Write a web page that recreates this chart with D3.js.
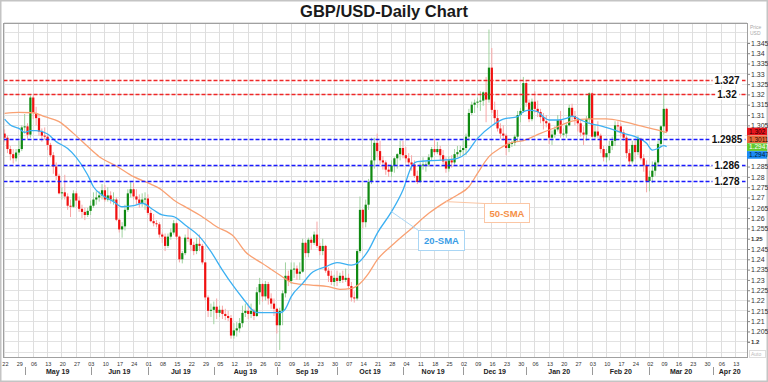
<!DOCTYPE html>
<html>
<head>
<meta charset="utf-8">
<script src="https://cdn.jsdelivr.net/npm/d3@7/dist/d3.min.js"></script>
<style>
  body { margin: 0; background: #fff; }
  svg { display: block; font-family: "Liberation Sans", Arial, sans-serif; }
</style>
</head>
<body>
<div class="chart"></div>
<script>
var svgWidth = 768;
var svgHeight = 382;
var plot = { left: 3.5, right: 747, top: 23.5, bottom: 357 };

// Daily GBP/USD candles, one per weekday from Mon 22 Apr 2019 (index 0) to Tue 10 Mar 2020
var firstOpen = 1.3010;
var closes = [
  1.2990, 1.2935, 1.2910, 1.2890, 1.2918,  1.2935, 1.3040, 1.3045, 1.3005, 1.3185,
  1.3110, 1.3085, 1.3020, 1.3000, 1.2995,  1.2955, 1.2905, 1.2850, 1.2805, 1.2720,
  1.2725, 1.2705, 1.2660, 1.2655, 1.2720,  1.2685, 1.2645, 1.2630, 1.2615, 1.2635,
  1.2660, 1.2690, 1.2700, 1.2710, 1.2735,  1.2690, 1.2710, 1.2690, 1.2690, 1.2592,
  1.2545, 1.2560, 1.2640, 1.2720, 1.2740,  1.2705, 1.2690, 1.2672, 1.2690, 1.2695,
  1.2625, 1.2585, 1.2575, 1.2570, 1.2520,  1.2510, 1.2465, 1.2510, 1.2530, 1.2575,
  1.2510, 1.2400, 1.2430, 1.2505, 1.2500,  1.2470, 1.2440, 1.2475, 1.2465, 1.2385,
  1.2215, 1.2150, 1.2155, 1.2170, 1.2140,  1.2155, 1.2135, 1.2125, 1.2115, 1.2030,
  1.2055, 1.2065, 1.2090, 1.2140, 1.2150,  1.2135, 1.2150, 1.2125, 1.2240, 1.2280,
  1.2220, 1.2280, 1.2210, 1.2185, 1.2160,  1.2080, 1.2150, 1.2235, 1.2320, 1.2295,
  1.2350, 1.2355, 1.2330, 1.2340, 1.2480,  1.2430, 1.2495, 1.2480, 1.2520, 1.2465,
  1.2440, 1.2465, 1.2345, 1.2320, 1.2290,  1.2310, 1.2295, 1.2320, 1.2300, 1.2310,
  1.2270, 1.2215, 1.2210, 1.2440, 1.2640,  1.2580, 1.2665, 1.2775, 1.2880, 1.2965,
  1.2925, 1.2880, 1.2870, 1.2835, 1.2825,  1.2855, 1.2890, 1.2910, 1.2940, 1.2905,
  1.2890, 1.2870, 1.2860, 1.2805, 1.2775,  1.2855, 1.2860, 1.2860, 1.2895, 1.2935,
  1.2920, 1.2935, 1.2905, 1.2875, 1.2840,  1.2880, 1.2870, 1.2910, 1.2920, 1.2930,
  1.2940, 1.2995, 1.3110, 1.3150, 1.3160,  1.3165, 1.3170, 1.3210, 1.3175, 1.3330,
  1.3125, 1.3085, 1.3035, 1.3010, 1.3000,  1.2940, 1.2960, 1.2965, 1.2995, 1.3100,
  1.3120, 1.3255, 1.3160, 1.3080, 1.3165,  1.3130, 1.3115, 1.3090, 1.3070, 1.3060,
  1.2990, 1.3005, 1.3030, 1.3075, 1.3010,  1.3010, 1.3050, 1.3135, 1.3095, 1.3080,
  1.3060, 1.3015, 1.3005, 1.3080, 1.3205,  1.2995, 1.3020, 1.3000, 1.2935, 1.2895,
  1.2915, 1.2950, 1.2975, 1.3050, 1.3045,  1.3015, 1.2990, 1.2915, 1.2875, 1.2955,
  1.2920, 1.2985, 1.2890, 1.2855, 1.2780,  1.2800, 1.2830, 1.2870, 1.2960, 1.3045,
  1.3130, 1.3020
];
var highs = [
  1.3030, 1.3000, 1.2950, 1.2935, 1.2935,  1.2975, 1.3050, 1.3105, 1.3060, 1.3195,
  1.3195, 1.3140, 1.3100, 1.3035, 1.3040,  1.3010, 1.2965, 1.2920, 1.2870, 1.2815,
  1.2750, 1.2810, 1.2720, 1.2690, 1.2735,  1.2730, 1.2705, 1.2665, 1.2650, 1.2650,
  1.2685, 1.2725, 1.2730, 1.2730, 1.2765,  1.2760, 1.2750, 1.2730, 1.2725, 1.2700,
  1.2600, 1.2580, 1.2665, 1.2740, 1.2780,  1.2770, 1.2740, 1.2715, 1.2720, 1.2725,
  1.2715, 1.2640, 1.2620, 1.2590, 1.2580,  1.2530, 1.2525, 1.2525, 1.2550, 1.2590,
  1.2580, 1.2515, 1.2440, 1.2520, 1.2555,  1.2505, 1.2485, 1.2505, 1.2520, 1.2475,
  1.2385, 1.2225, 1.2185, 1.2195, 1.2210,  1.2175, 1.2175, 1.2160, 1.2150, 1.2130,
  1.2090, 1.2095, 1.2115, 1.2175, 1.2185,  1.2175, 1.2185, 1.2160, 1.2265, 1.2310,
  1.2285, 1.2295, 1.2290, 1.2235, 1.2210,  1.2165, 1.2165, 1.2250, 1.2385, 1.2345,
  1.2385, 1.2385, 1.2370, 1.2385, 1.2500,  1.2485, 1.2505, 1.2510, 1.2535, 1.2583,
  1.2480, 1.2500, 1.2470, 1.2360, 1.2345,  1.2325, 1.2345, 1.2335, 1.2345, 1.2355,
  1.2330, 1.2290, 1.2245, 1.2450, 1.2705,  1.2645, 1.2690, 1.2790, 1.2990, 1.2990,
  1.3010, 1.2975, 1.2900, 1.2880, 1.2860,  1.2880, 1.2895, 1.2915, 1.2975, 1.2975,
  1.2945, 1.2915, 1.2905, 1.2880, 1.2830,  1.2870, 1.2895, 1.2875, 1.2910, 1.2945,
  1.2985, 1.2970, 1.2950, 1.2930, 1.2895,  1.2900, 1.2905, 1.2935, 1.2950, 1.2950,
  1.2975, 1.3010, 1.3130, 1.3165, 1.3175,  1.3185, 1.3215, 1.3215, 1.3285, 1.3515,
  1.3425, 1.3165, 1.3125, 1.3060, 1.3050,  1.3010, 1.2975, 1.2975, 1.3005, 1.3120,
  1.3135, 1.3285, 1.3265, 1.3175, 1.3180,  1.3215, 1.3170, 1.3130, 1.3110, 1.3100,
  1.3065, 1.3025, 1.3045, 1.3100, 1.3120,  1.3035, 1.3060, 1.3150, 1.3155, 1.3120,
  1.3090, 1.3075, 1.3045, 1.3095, 1.3210,  1.3210, 1.3050, 1.3070, 1.3010, 1.2950,
  1.2935, 1.2975, 1.2995, 1.3070, 1.3070,  1.3060, 1.3030, 1.3000, 1.2935, 1.2975,
  1.2975, 1.3000, 1.2990, 1.2910, 1.2880,  1.2830, 1.2875, 1.2880, 1.2975, 1.3050,
  1.3205, 1.3135
];
var lows = [
  1.2970, 1.2915, 1.2880, 1.2865, 1.2875,  1.2905, 1.2925, 1.3010, 1.2985, 1.2990,
  1.3080, 1.3050, 1.3000, 1.2970, 1.2980,  1.2930, 1.2895, 1.2815, 1.2785, 1.2715,
  1.2690, 1.2690, 1.2640, 1.2605, 1.2650,  1.2655, 1.2630, 1.2600, 1.2590, 1.2605,
  1.2615, 1.2650, 1.2665, 1.2680, 1.2690,  1.2680, 1.2680, 1.2670, 1.2665, 1.2585,
  1.2530, 1.2505, 1.2540, 1.2630, 1.2700,  1.2690, 1.2665, 1.2650, 1.2655, 1.2640,
  1.2615, 1.2580, 1.2560, 1.2555, 1.2505,  1.2480, 1.2440, 1.2455, 1.2495, 1.2520,
  1.2495, 1.2385, 1.2380, 1.2420, 1.2485,  1.2440, 1.2420, 1.2425, 1.2440, 1.2375,
  1.2200, 1.2120, 1.2120, 1.2085, 1.2110,  1.2120, 1.2110, 1.2105, 1.2100, 1.2015,
  1.2015, 1.2025, 1.2045, 1.2070, 1.2120,  1.2110, 1.2115, 1.2105, 1.2120, 1.2180,
  1.2195, 1.2200, 1.2180, 1.2160, 1.2125,  1.2040, 1.1960, 1.2080, 1.2215, 1.2270,
  1.2280, 1.2310, 1.2300, 1.2300, 1.2335,  1.2410, 1.2410, 1.2445, 1.2470, 1.2455,
  1.2420, 1.2420, 1.2335, 1.2290, 1.2275,  1.2270, 1.2270, 1.2285, 1.2285, 1.2290,
  1.2255, 1.2195, 1.2190, 1.2200, 1.2430,  1.2550, 1.2555, 1.2640, 1.2765, 1.2840,
  1.2895, 1.2860, 1.2835, 1.2810, 1.2800,  1.2800, 1.2820, 1.2840, 1.2880, 1.2890,
  1.2870, 1.2850, 1.2830, 1.2795, 1.2765,  1.2770, 1.2835, 1.2825, 1.2850, 1.2880,
  1.2905, 1.2910, 1.2880, 1.2860, 1.2820,  1.2825, 1.2845, 1.2860, 1.2895, 1.2900,
  1.2905, 1.2905, 1.2975, 1.3100, 1.3110,  1.3135, 1.3120, 1.3145, 1.3065, 1.3160,
  1.3110, 1.3060, 1.3020, 1.2985, 1.2975,  1.2905, 1.2920, 1.2945, 1.2950, 1.2975,
  1.3065, 1.3110, 1.3140, 1.3065, 1.3070,  1.3110, 1.3090, 1.3060, 1.3030, 1.3040,
  1.2960, 1.2955, 1.2990, 1.3020, 1.2990,  1.2995, 1.2990, 1.3045, 1.3075, 1.3050,
  1.3020, 1.2995, 1.2955, 1.2975, 1.3060,  1.2990, 1.2985, 1.2990, 1.2915, 1.2875,
  1.2870, 1.2880, 1.2930, 1.2950, 1.3015,  1.2995, 1.2975, 1.2890, 1.2850, 1.2865,
  1.2885, 1.2905, 1.2880, 1.2825, 1.2725,  1.2730, 1.2770, 1.2805, 1.2855, 1.2945,
  1.3005, 1.3015
];

// moving averages: [day index, value]
var sma20 = [[0,1.3080],[2,1.3052],[5,1.3035],[7,1.3016],[9,1.3024],[11,1.3024],[15,1.3008],[18,1.2971],
  [22,1.2938],[25,1.2895],[29,1.2809],[31,1.2752],[34,1.2712],[38,1.2680],[41,1.2655],[45,1.2660],
  [48,1.2672],[52,1.2639],[55,1.2615],[59,1.2607],[63,1.2566],[68,1.2510],[72,1.2437],[76,1.2348],
  [80,1.2267],[84,1.2195],[86,1.2160],[88,1.2142],[92,1.2141],[96,1.2141],[98,1.2160],[100,1.2219],
  [104,1.2283],[107,1.2332],[112,1.2364],[116,1.2384],[121,1.2372],[123,1.2380],[127,1.2445],[130,1.2526],
  [135,1.2631],[139,1.2736],[142,1.2850],[144,1.2874],[149,1.2879],[154,1.2882],[158,1.2890],[161,1.2914],
  [165,1.2987],[170,1.3048],[174,1.3080],[179,1.3092],[181,1.3116],[183,1.3124],[186,1.3116],[188,1.3092],
  [190,1.3076],[193,1.3076],[196,1.3084],[198,1.3095],[201,1.3076],[204,1.3060],[208,1.3047],[211,1.3035],
  [216,1.3011],[220,1.2995],[224,1.2963],[226,1.2930],[228,1.2938],[230,1.2952],[231,1.2947]];
var sma50 = [[0,1.3108],[5,1.3113],[10,1.3111],[14,1.3092],[19,1.3068],[24,1.3011],[29,1.2947],[33,1.2898],
  [39,1.2853],[45,1.2801],[51,1.2765],[54,1.2744],[59,1.2688],[64,1.2647],[68,1.2615],[74,1.2558],
  [80,1.2510],[84,1.2437],[90,1.2380],[96,1.2324],[101,1.2283],[107,1.2275],[113,1.2267],[117,1.2254],
  [121,1.2259],[124,1.2283],[127,1.2332],[130,1.2397],[136,1.2478],[142,1.2550],[148,1.2623],[154,1.2680],
  [158,1.2712],[162,1.2752],[165,1.2817],[169,1.2898],[173,1.2940],[176,1.2963],[181,1.2976],[187,1.3011],
  [193,1.3044],[198,1.3071],[204,1.3081],[210,1.3081],[216,1.3068],[222,1.3047],[228,1.3027],[231,1.3015]];

var levelValues = [1.327, 1.32, 1.2985, 1.286, 1.278];
var levelLabels = ["1.327", "1.32", "1.2985", "1.286", "1.278"];
var levelKinds = ["res", "res", "sup", "sup", "sup"];

var tagValues = [1.302, 1.3011, 1.2947, 1.2947];
var tagLabels = ["1.302", "1.3011", "1.2947", "1.2947"];

var yTicks = [1.2, 1.205, 1.21, 1.215, 1.22, 1.225, 1.23, 1.235, 1.24, 1.245, 1.25, 1.255, 1.26, 1.265,
  1.27, 1.275, 1.28, 1.285, 1.29, 1.295, 1.3, 1.305, 1.31, 1.315, 1.32, 1.325, 1.33, 1.335, 1.34, 1.345];
var weekLabels = ["22","29","06","13","20","27","03","10","17","24","01","08","15","22","29","05","12","19","26",
  "02","09","16","23","30","07","14","21","28","04","11","18","25","02","09","16","23","30","06","13","20","27",
  "03","10","17","24","02","09","16","23","30","06","13"];
var monthLabels = ["May 19","Jun 19","Jul 19","Aug 19","Sep 19","Oct 19","Nov 19","Dec 19","Jan 20","Feb 20","Mar 20","Apr 20"];
var monthStarts = [7, 30, 50, 73, 95, 116, 139, 160, 182, 205, 225, 247];

var svg = d3.select(".chart")
  .append("svg")
  .attr("width", svgWidth)
  .attr("height", svgHeight);

// scales: x on trading-day index, y on price
var lastIndex = 259;
var xScale = d3.scaleLinear().domain([0, lastIndex]).range([4.6, 4.6 + lastIndex * 2.866]);
var yScale = d3.scaleLinear().domain([1.2, 1.345]).range([341.75, 42.9]);

// frame
svg.append("rect")
  .attr("x", 0.75).attr("y", 0.75)
  .attr("width", svgWidth - 1.5).attr("height", svgHeight - 1.5)
  .attr("fill", "#fff").attr("stroke", "#c4c4c4").attr("stroke-width", 1.5);

svg.append("text")
  .attr("x", 384).attr("y", 17)
  .attr("text-anchor", "middle")
  .style("font-size", "16.5px").style("font-weight", "bold").style("fill", "#1a1a1a")
  .text("GBP/USD-Daily Chart");

svg.append("defs").append("clipPath").attr("id", "plotclip")
  .append("rect")
  .attr("x", plot.left).attr("y", plot.top)
  .attr("width", plot.right - plot.left).attr("height", plot.bottom - plot.top);

var grid = svg.append("g").attr("shape-rendering", "crispEdges");
var gridPrices = d3.range(1.195, 1.3551, 0.005);
grid.selectAll(".hg").data(gridPrices).enter().append("line")
  .attr("x1", plot.left).attr("x2", plot.right)
  .attr("y1", d => yScale(d)).attr("y2", d => yScale(d))
  .attr("stroke", "#e2e2e2");
grid.selectAll(".vg").data(weekLabels).enter().append("line")
  .attr("x1", (d, i) => xScale(i * 5)).attr("x2", (d, i) => xScale(i * 5))
  .attr("y1", plot.top).attr("y2", plot.bottom)
  .attr("stroke", "#dedede");

var chart = svg.append("g").attr("clip-path", "url(#plotclip)");

// candles
var candles = closes.map(function(c, i) {
  var o = i === 0 ? firstOpen : closes[i - 1];
  return { i: i, o: o, h: highs[i], l: lows[i], c: c, up: c >= o };
});

chart.selectAll(".wick").data(candles).enter().append("line")
  .attr("x1", d => xScale(d.i)).attr("x2", d => xScale(d.i))
  .attr("y1", d => yScale(d.h)).attr("y2", d => yScale(d.l))
  .attr("stroke", d => d.up ? "#9fd29f" : "#f7a6a6")
  .attr("stroke-width", 1);

chart.selectAll(".body").data(candles).enter().append("rect")
  .attr("x", d => xScale(d.i) - 1.1)
  .attr("width", 2.2)
  .attr("y", d => yScale(Math.max(d.o, d.c)))
  .attr("height", d => Math.max(1, Math.abs(yScale(d.o) - yScale(d.c))))
  .attr("fill", d => d.up ? "#0f8a12" : "#f01010");

// moving averages
var smaLine = d3.line()
  .x(d => xScale(d[0]))
  .y(d => yScale(d[1]))
  .curve(d3.curveMonotoneX);

chart.append("path").datum(sma50)
  .attr("d", smaLine).attr("fill", "none")
  .attr("stroke", "#f9a173").attr("stroke-width", 1.3);
chart.append("path").datum(sma20)
  .attr("d", smaLine).attr("fill", "none")
  .attr("stroke", "#3cb0f2").attr("stroke-width", 1.3);

// support / resistance levels
var levels = svg.append("g");
levelValues.forEach(function(v, k) {
  var yy = Math.round(yScale(v)) + 0.5;
  var col = levelKinds[k] === "res" ? "#f02828" : "#1a1aff";
  levels.append("line")
    .attr("x1", plot.left).attr("x2", plot.right)
    .attr("y1", yy).attr("y2", yy)
    .attr("stroke", col)
    .attr("stroke-width", levelKinds[k] === "res" ? 1.3 : 1.6)
    .attr("stroke-dasharray", "4,2");
  var t = levels.append("text")
    .attr("x", 727).attr("y", yy + 3.5)
    .attr("text-anchor", "middle")
    .style("font-size", "10px").style("font-weight", "bold").style("fill", "#111")
    .text(levelLabels[k]);
  var bb = t.node().getBBox();
  levels.insert("rect", "text:last-child")
    .attr("x", bb.x - 2).attr("y", yy - 5)
    .attr("width", bb.width + 4).attr("height", 10)
    .attr("fill", "#fff");
});

// indicator callouts
function callout(series, anchorIdx, box, label, color, border) {
  var pt = series.find(d => d[0] >= anchorIdx);
  svg.append("line")
    .attr("x1", xScale(pt[0])).attr("y1", yScale(pt[1]))
    .attr("x2", box.x).attr("y2", box.y)
    .attr("stroke", border).attr("stroke-width", 1);
  svg.append("rect")
    .attr("x", box.x).attr("y", box.y)
    .attr("width", box.w).attr("height", box.h)
    .attr("fill", "#fff").attr("stroke", border).attr("stroke-width", 1);
  svg.append("text")
    .attr("x", box.x + box.w / 2).attr("y", box.y + box.h / 2 + 3.5)
    .attr("text-anchor", "middle")
    .style("font-size", "9.5px").style("font-weight", "bold").style("fill", color)
    .text(label);
}
callout(sma20, 135, { x: 418.5, y: 230.5, w: 46, h: 20 }, "20-SMA", "#3a9de6", "#a9d6f5");
callout(sma50, 154, { x: 484.5, y: 203.5, w: 45, h: 19 }, "50-SMA", "#f59048", "#fbc6a4");

// plot border
svg.append("rect")
  .attr("x", plot.left).attr("y", plot.top)
  .attr("width", plot.right - plot.left).attr("height", plot.bottom - plot.top)
  .attr("fill", "none").attr("stroke", "#a0a0a0").attr("shape-rendering", "crispEdges");

// current value tags, stacked so they do not cover each other
var tagColors = ["#e8141c", "#e86a3c", "#62c92e", "#1c8cf5"];
var tagText = ["#2a0000", "#2a0a00", "#ffffff", "#001a33"];
var tagY = [];
tagValues.forEach(function(v, k) {
  var yy = yScale(v) - 3.8;
  if (k > 0 && yy < tagY[k - 1] + 7.8) yy = tagY[k - 1] + 7.8;
  tagY.push(yy);
});
var tagTop = tagY[0] - 2, tagBottom = tagY[tagY.length - 1] + 9.5;

// right price axis (labels hidden where the tags sit)
var rightAxis = d3.axisRight(yScale)
  .tickValues(yTicks)
  .tickSize(3)
  .tickFormat(d => String(+d.toFixed(3)));
var ax = svg.append("g")
  .attr("transform", `translate(${plot.right}, 0)`)
  .call(rightAxis);
ax.select(".domain").attr("stroke", "#888");
ax.selectAll(".tick line").attr("stroke", "#888");
ax.selectAll(".tick text")
  .attr("x", 4)
  .style("font-family", "Liberation Sans, Arial, sans-serif")
  .style("font-size", d => (d === 1.25 || d === 1.2) ? "6px" : "7px")
  .style("font-weight", d => (d === 1.25 || d === 1.2) ? "bold" : "normal")
  .style("fill", "#333")
  .style("display", d => (yScale(d) > tagTop && yScale(d) < tagBottom) ? "none" : null);

tagValues.forEach(function(v, k) {
  svg.append("rect")
    .attr("x", plot.right).attr("y", tagY[k])
    .attr("width", svgWidth - plot.right - 1).attr("height", 7.6)
    .attr("fill", tagColors[k]);
  svg.append("text")
    .attr("x", plot.right + 2).attr("y", tagY[k] + 6)
    .style("font-size", "6.5px").style("fill", tagText[k])
    .text(tagLabels[k]);
});

svg.append("text").attr("x", 750).attr("y", 29)
  .style("font-size", "5px").style("fill", "#aaa").text("Price");
svg.append("text").attr("x", 750).attr("y", 35)
  .style("font-size", "5px").style("fill", "#aaa").text("USD");
svg.append("rect").attr("x", 749.5).attr("y", 350.5).attr("width", 16).attr("height", 7)
  .attr("fill", "#fff").attr("stroke", "#ddd");
svg.append("text").attr("x", 751).attr("y", 356)
  .style("font-size", "5px").style("fill", "#bbb").text("Auto");

// bottom time axis
var timeAxis = svg.append("g");
timeAxis.selectAll(".wk").data(weekLabels).enter().append("text")
  .attr("x", (d, i) => xScale(i * 5) + 0.8)
  .attr("y", 365.5)
  .attr("text-anchor", "middle")
  .style("font-size", "5.5px").style("fill", "#333")
  .text(d => d);
timeAxis.selectAll(".sep").data(monthStarts).enter().append("line")
  .attr("x1", d => Math.round(xScale(d)) + 0.5).attr("x2", d => Math.round(xScale(d)) + 0.5)
  .attr("y1", 367).attr("y2", 375)
  .attr("stroke", "#999");
timeAxis.selectAll(".mo").data(monthLabels).enter().append("text")
  .attr("x", function(d, i) {
    var a = xScale(monthStarts[i]);
    var b = i + 1 < monthStarts.length ? xScale(monthStarts[i + 1]) : xScale(lastIndex);
    return (a + b) / 2;
  })
  .attr("y", 373.5)
  .attr("text-anchor", "middle")
  .style("font-size", "7px").style("font-weight", "bold").style("fill", "#222")
  .text(d => d);
</script>
</body>
</html>
